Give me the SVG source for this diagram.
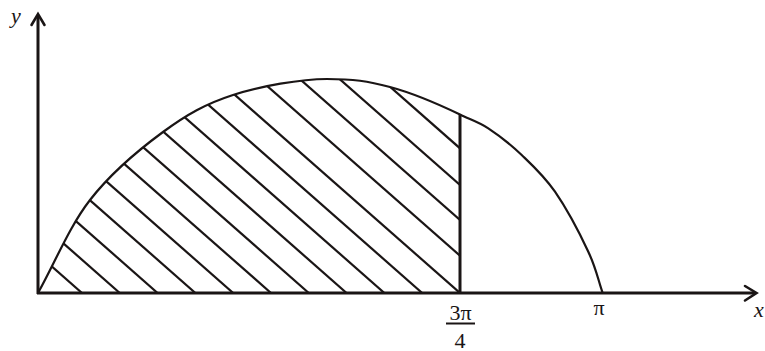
<svg xmlns="http://www.w3.org/2000/svg" width="765" height="351" viewBox="0 0 765 351">
  <style>
    .ax { stroke: #1a1515; stroke-width: 3; fill: none; }
    .arr { stroke: #1a1515; stroke-width: 2.6; fill: none; stroke-linecap: round; stroke-linejoin: miter; }
    .cv { stroke: #1a1515; stroke-width: 2.2; fill: none; }
    .h { stroke: #1a1515; stroke-width: 2.2; }
    .t { font-family: "Liberation Serif", "Times New Roman", serif; font-size: 22px; fill: #1a1515; }
    .it { font-style: italic; }
  </style>
  <defs>
    <clipPath id="region">
      <path d="M38,293 C55.3,262 69.2,226.8 90,200 C110.8,173.2 139.2,149.5 163,132 C186.8,114.5 205.7,103.8 233,95 C260.3,86.2 300.8,79 327,79 C353.2,79 367.8,81 390,87 C412.2,93 435,102.5 460,114.5 L460,293 Z"/>
    </clipPath>
  </defs>
  <rect width="765" height="351" fill="#ffffff"/>

  <g id="hatching" clip-path="url(#region)">
    <line class="h" x1="82" y1="293" x2="-218" y2="29"/>
    <line class="h" x1="119.8" y1="293" x2="-180.2" y2="29"/>
    <line class="h" x1="157.6" y1="293" x2="-142.4" y2="29"/>
    <line class="h" x1="195.4" y1="293" x2="-104.6" y2="29"/>
    <line class="h" x1="233.2" y1="293" x2="-66.8" y2="29"/>
    <line class="h" x1="271" y1="293" x2="-29" y2="29"/>
    <line class="h" x1="308.8" y1="293" x2="8.8" y2="29"/>
    <line class="h" x1="346.6" y1="293" x2="46.6" y2="29"/>
    <line class="h" x1="384.4" y1="293" x2="84.4" y2="29"/>
    <line class="h" x1="422.2" y1="293" x2="122.2" y2="29"/>
    <line class="h" x1="460" y1="293" x2="160" y2="29"/>
    <line class="h" x1="460" y1="255.7" x2="160" y2="-8.3"/>
    <line class="h" x1="460" y1="220" x2="160" y2="-44"/>
    <line class="h" x1="460" y1="185" x2="160" y2="-79"/>
    <line class="h" x1="460" y1="148.3" x2="160" y2="-115.7"/>
  </g>

  <g id="curve">
    <path class="cv" d="M38,293 C55.3,262 69.2,226.8 90,200 C110.8,173.2 139.2,149.5 163,132 C186.8,114.5 205.7,103.8 233,95 C260.3,86.2 300.8,79 327,79 C353.2,79 367.8,81 390,87 C412.2,93 435,102.5 460,114.5 C469.3,119.2 478,121.55 488.3,128.3 C498.6,135.05 510.6,144.4 521.7,155 C532.8,165.6 543.9,175.6 555,191.7 C566.1,207.8 580.4,234.9 588.3,251.7 C596.2,268.5 597.8,278.9 602.5,292.5"/>
  </g>

  <g id="boundary">
    <line class="ax" x1="460" y1="114.5" x2="460" y2="293"/>
  </g>

  <g id="axes">
    <line class="ax" x1="38" y1="294" x2="38" y2="15"/>
    <polyline class="arr" points="31.5,25 38,14 44.5,25"/>
    <line class="ax" x1="37" y1="293" x2="755" y2="293"/>
    <polyline class="arr" points="745,286 756.5,293 745,300.5"/>
  </g>

  <g id="labels">
    <text class="t it" x="11" y="23">y</text>
    <text class="t it" x="754" y="317">x</text>
    <text class="t" x="599" y="315" text-anchor="middle" font-size="24">π</text>
    <text class="t" x="460.5" y="319.5" text-anchor="middle">3π</text>
    <line x1="446" y1="323.5" x2="475" y2="323.5" stroke="#1a1515" stroke-width="2"/>
    <text class="t" x="460" y="347.5" text-anchor="middle">4</text>
  </g>
</svg>
